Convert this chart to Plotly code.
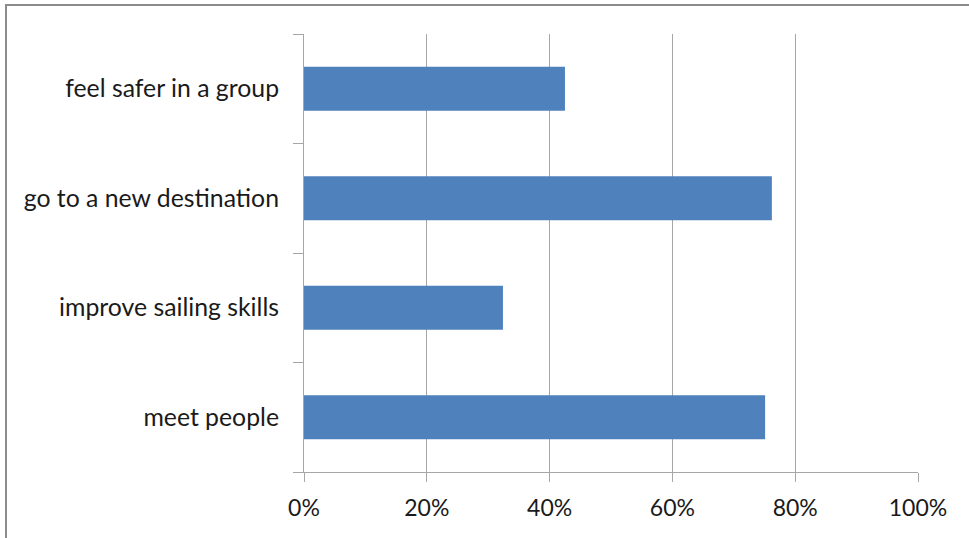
import plotly.graph_objects as go

categories = ["meet people", "improve sailing skills", "go to a new destination", "feel safer in a group"]
values = [0.751, 0.324, 0.762, 0.425]
tick_vals = [0, 0.2, 0.4, 0.6, 0.8, 1.0]
tick_text = ["0%", "20%", "40%", "60%", "80%", "100%"]

FONT = "Lato"
GRID = "#a6a6a6"

fig = go.Figure(go.Bar(
    x=values, y=categories, orientation="h",
    marker=dict(color="#4F81BD", line=dict(width=0)),
    hoverinfo="skip",
))

fig.update_layout(
    width=969, height=538,
    margin=dict(l=304, r=51, t=34, b=66),
    paper_bgcolor="white", plot_bgcolor="white",
    bargap=0.6,
    showlegend=False,
    font=dict(family=FONT, size=23, color="#1a1a1a"),
    xaxis=dict(
        range=[0, 1], tickvals=tick_vals, ticktext=tick_text,
        tickfont=dict(size=23),
        showgrid=True, gridcolor=GRID, gridwidth=1,
        showline=True, linecolor=GRID, linewidth=1,
        ticks="outside", ticklen=9, tickcolor=GRID,
        zeroline=False, fixedrange=True, ticklabelstandoff=6,
    ),
    yaxis=dict(
        type="category", categoryorder="array", categoryarray=categories,
        tickfont=dict(size=24.8),
        tickson="boundaries", ticks="outside", ticklen=10, tickcolor=GRID,
        showline=True, linecolor=GRID, linewidth=1,
        showgrid=False, zeroline=False, ticklabelstandoff=19,
        fixedrange=True,
    ),
    shapes=[dict(
        type="rect", xref="paper", yref="paper",
        x0=(6 - 304) / 614, x1=(985 - 304) / 614,
        y0=(472 - 545) / 438, y1=(472 - 5) / 438,
        line=dict(color="#8c8c8c", width=2), fillcolor="rgba(0,0,0,0)",
        layer="below",
    )],
)

fig.write_html("out.html")
